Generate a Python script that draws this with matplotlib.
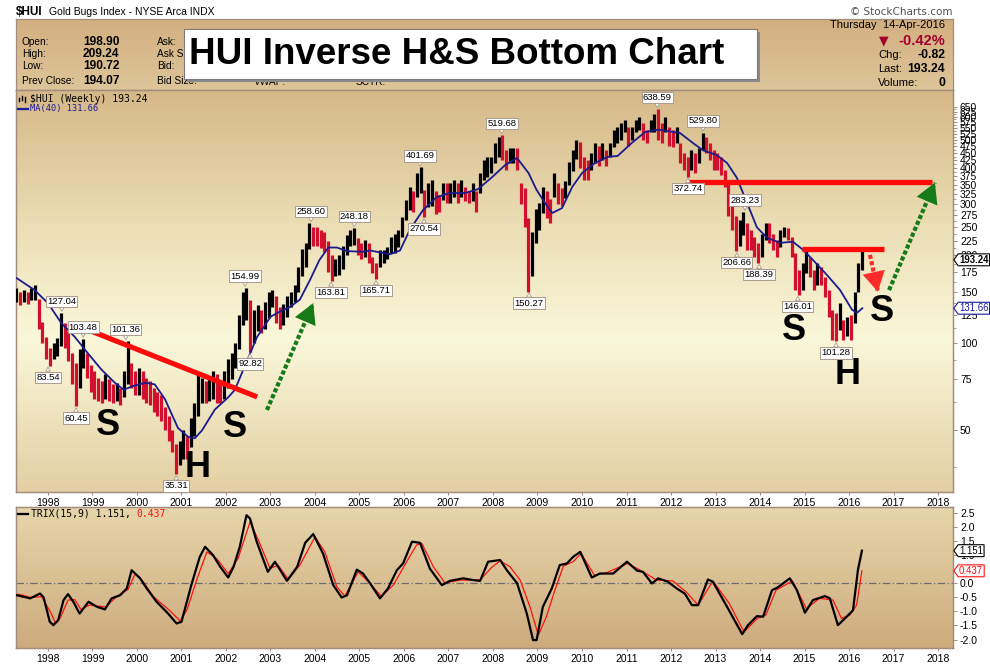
import numpy as np
import matplotlib
matplotlib.use("Agg")
import matplotlib.pyplot as plt
import matplotlib.ticker as mticker
from matplotlib.colors import LinearSegmentedColormap
from matplotlib.patches import Rectangle
from matplotlib.lines import Line2D
from matplotlib.path import Path

plt.rcParams['font.family'] = ['Liberation Sans', 'DejaVu Sans']

# ------------------------------------------------------------------ DATA
first_month = (1997, 4)          # first monthly bar: April 1997
bar_high = [
    155, 150, 152, 150, 155, 158, 142, 118, 105,                       # 1997 Apr-Dec
    96, 100, 104, 127, 117, 110, 92, 85, 95, 103.5, 92, 84,            # 1998
    80, 76, 74, 78, 75, 72, 73, 70, 80, 101.4, 85, 80,                 # 1999
    82, 80, 76, 74, 70, 68, 66, 60, 56, 50, 45, 46,                    # 2000
    50, 48, 55, 62, 78, 76, 74, 75, 80, 78, 74, 80,                    # 2001
    88, 92, 100, 125, 150, 155, 140, 130, 135, 130, 138, 150,          # 2002
    152, 145, 133, 136, 145, 150, 158, 183, 210, 220, 258.6, 250,      # 2003
    250, 245, 240, 225, 200, 195, 200, 215, 235, 245, 248.2, 230,      # 2004
    220, 226, 220, 198, 188, 209, 209, 214, 232, 238, 245, 272,        # 2005
    310, 344, 334, 384, 401.7, 336, 355, 365, 334, 322, 355, 355,      # 2006
    355, 364, 355, 364, 344, 334, 355, 334, 384, 426, 436, 436,        # 2007
    488, 511, 519.7, 461, 470, 470, 470, 355, 340, 270, 240, 290,      # 2008
    303, 344, 334, 313, 384, 355, 340, 360, 420, 460, 500, 490,        # 2009
    436, 426, 450, 488, 476, 488, 460, 488, 541, 553, 570, 585,        # 2010
    553, 553, 585, 600, 570, 541, 585, 615, 638.6, 570, 600, 553,      # 2011
    541, 553, 488, 450, 436, 460, 450, 470, 529.8, 511, 488, 460,      # 2012
    450, 436, 394, 355, 303, 273, 265, 283.2, 259, 245, 231, 221,      # 2013
    238, 259, 259, 238, 226, 245, 250, 248, 232, 204, 178, 188,        # 2014
    209, 198, 178, 188, 183, 169, 152, 130, 127, 137, 120, 123,        # 2015
    125, 150, 188, 209.2,                                              # 2016 Jan-Apr
]
bar_low = [
    138, 135, 138, 136, 140, 140, 112, 100, 88,                        # 1997
    83.5, 88, 90, 98, 96, 87, 72, 60.5, 70, 82, 76, 68,                # 1998
    64, 63, 62, 64, 63, 62, 63, 61, 65, 72, 70, 66,                    # 1999
    66, 64, 62, 61, 58, 56, 54, 50, 46, 42, 35.3, 38,                  # 2000
    40, 40, 44, 48, 56, 62, 62, 63, 64, 62, 62, 64,                    # 2001
    70, 75, 82, 95, 115, 120, 92.8, 100, 110, 108, 112, 122,           # 2002
    133, 117, 112, 115, 123, 133, 138, 150, 170, 183, 210, 216,        # 2003
    215, 212, 205, 175, 163.8, 170, 172, 180, 200, 215, 218, 200,      # 2004
    194, 198, 188, 174, 165.7, 183, 188, 194, 204, 204, 214, 232,      # 2005
    265, 287, 283, 318, 328, 270.5, 293, 297, 278, 283, 310, 303,      # 2006
    303, 318, 303, 318, 308, 303, 308, 283, 328, 364, 372, 384,        # 2007
    416, 436, 426, 394, 416, 416, 394, 300, 250, 150.3, 170, 220,      # 2008
    245, 280, 270, 259, 318, 300, 295, 315, 350, 390, 430, 400,        # 2009
    364, 364, 394, 416, 405, 426, 405, 436, 474, 488, 499, 530,        # 2010
    476, 499, 530, 541, 499, 488, 530, 530, 499, 488, 530, 476,        # 2011
    474, 488, 416, 394, 372.7, 394, 384, 416, 461, 450, 426, 394,      # 2012
    394, 378, 344, 273, 245, 206.7, 215, 235, 209, 209, 198, 188.4,    # 2013
    198, 226, 221, 209, 198, 214, 232, 226, 198, 152, 146, 152,        # 2014
    174, 169, 152, 158, 158, 144, 123, 102, 101.3, 111, 102, 106,      # 2015
    102, 117, 150, 178,                                                # 2016
]

ma_dates = [1997.30, 1997.70, 1998.00, 1998.30, 1998.60, 1998.90, 1999.20, 1999.50,
            1999.70, 1999.90, 2000.20, 2000.40, 2000.63, 2000.92, 2001.15, 2001.30,
            2001.46, 2001.75, 2002.05, 2002.20, 2002.39, 2002.70, 2003.00, 2003.20,
            2003.44, 2003.66, 2003.89, 2004.10, 2004.30, 2004.49, 2004.72, 2005.08,
            2005.24, 2005.53, 2005.69, 2005.91, 2006.13, 2006.43, 2006.74, 2007.03,
            2007.37, 2007.66, 2007.98, 2008.27, 2008.54, 2008.80, 2008.98, 2009.17,
            2009.33, 2009.55, 2009.78, 2010.00, 2010.29, 2010.58, 2010.80, 2011.12,
            2011.42, 2011.71, 2012.20, 2012.49, 2012.72, 2013.03, 2013.26, 2013.48,
            2013.71, 2013.93, 2014.16, 2014.45, 2014.74, 2014.97, 2015.19, 2015.51,
            2015.80, 2016.07, 2016.18, 2016.30]
ma_values = [167, 152, 137, 117, 105, 92, 81, 73,
             69, 71, 73, 72, 64, 51, 47.5, 47,
             50, 59, 65, 69, 81, 105, 123, 128,
             133, 141, 165, 193, 213, 213, 207, 206,
             208, 204, 202, 208, 245, 287, 318, 328,
             328, 338, 372, 409, 433, 384, 336, 303,
             280, 291, 344, 384, 416, 437, 440, 488,
             532, 542, 528, 488, 460, 443, 416, 370,
             303, 250, 230, 221, 223, 209, 193, 171,
             152, 130, 127, 131.66]

label_dates = [1998.31, 1998.79, 1998.00, 1998.63, 1999.75, 2000.88, 2002.43, 2002.54,
               2003.91, 2004.36, 2004.88, 2005.37, 2006.36, 2006.45, 2008.20, 2008.81,
               2011.69, 2012.72, 2012.38, 2013.66, 2013.48, 2013.98, 2014.85, 2015.71]
label_values = [127.04, 103.48, 83.54, 60.45, 101.36, 35.31, 154.99, 92.82,
                258.60, 163.81, 248.18, 165.71, 401.69, 270.54, 519.68, 150.27,
                638.59, 529.80, 372.74, 283.23, 206.66, 188.39, 146.01, 101.28]
label_side = ['h', 'h', 'l', 'l', 'h', 'l', 'h', 'l',
              'h', 'l', 'h', 'l', 'h', 'l', 'h', 'l',
              'h', 'h', 'l', 'h', 'l', 'l', 'l', 'l']

trix_dates = [1997.30, 1997.60, 1997.82, 1997.90, 1998.04, 1998.12, 1998.23, 1998.35, 1998.45,
              1998.57, 1998.71, 1998.91, 1999.10, 1999.28, 1999.43, 1999.62, 1999.77, 1999.88,
              2000.07, 2000.22, 2000.44, 2000.70, 2000.89, 2001.00, 2001.22, 2001.41, 2001.53,
              2001.71, 2001.87, 2002.05, 2002.17, 2002.31, 2002.46, 2002.54, 2002.69, 2002.94,
              2003.10, 2003.37, 2003.60, 2003.78, 2003.96, 2004.18, 2004.41, 2004.60, 2004.72,
              2004.94, 2005.08, 2005.24, 2005.46, 2005.64, 2005.84, 2005.98, 2006.18, 2006.36,
              2006.58, 2006.85, 2007.03, 2007.33, 2007.55, 2007.71, 2007.89, 2008.16, 2008.31,
              2008.54, 2008.76, 2008.90, 2008.98, 2009.12, 2009.32, 2009.50, 2009.66, 2009.80,
              2009.96, 2010.22, 2010.40, 2010.70, 2011.01, 2011.24, 2011.37, 2011.57, 2011.71,
              2011.93, 2012.13, 2012.31, 2012.47, 2012.61, 2012.83, 2012.94, 2013.26, 2013.60,
              2013.73, 2013.93, 2014.07, 2014.27, 2014.40, 2014.67, 2014.83, 2015.01, 2015.19,
              2015.46, 2015.57, 2015.75, 2015.91, 2016.09, 2016.20, 2016.29]
trix_values = [-0.43, -0.54, -0.37, -0.50, -1.37, -1.49, -1.31, -0.60, -0.39,
               -0.66, -1.08, -0.66, -0.84, -0.93, -0.54, -0.43, -0.19, 0.46,
               0.17, -0.19, -0.66, -1.08, -1.43, -1.37, -0.07, 0.93, 1.29,
               0.99, 0.58, 0.20, 0.58, 1.29, 2.41, 2.29, 1.47, 0.40,
               0.76, 0.08, 0.58, 1.43, 1.74, 1.05, -0.07, -0.51, -0.43,
               0.48, 0.34, -0.01, -0.54, -0.19, 0.46, 0.70, 1.47, 1.43,
               0.52, -0.07, 0.08, 0.17, 0.11, 0.08, 0.76, 0.82, 0.46,
               0.00, -1.08, -2.02, -2.02, -0.84, -0.19, 0.64, 0.70, 0.93,
               1.11, 0.20, 0.34, 0.34, 0.76, 0.44, 0.40, -0.01, 0.17,
               0.05, -0.19, -0.37, -0.78, -0.78, 0.13, 0.05, -0.84, -1.81,
               -1.49, -1.17, -1.19, -0.25, -0.15, 0.17, -0.25, -1.05, -0.60,
               -0.46, -0.54, -1.49, -1.25, -0.96, 0.46, 1.151]
signal_dates = [1997.33, 1997.63, 1997.86, 1998.08, 1998.17, 1998.27, 1998.45, 1998.60, 1998.74,
                1998.93, 1999.16, 1999.30, 1999.54, 1999.80, 1999.96, 2000.14, 2000.37, 2000.74,
                2000.97, 2001.12, 2001.34, 2001.57, 2001.79, 2002.05, 2002.27, 2002.54, 2002.73,
                2002.99, 2003.17, 2003.40, 2003.66, 2004.00, 2004.22, 2004.49, 2004.67, 2004.97,
                2005.16, 2005.49, 2005.76, 2006.06, 2006.28, 2006.40, 2006.66, 2006.92, 2007.26,
                2007.71, 2007.97, 2008.16, 2008.38, 2008.61, 2008.83, 2009.02, 2009.20, 2009.39,
                2009.58, 2009.80, 2009.98, 2010.28, 2010.55, 2011.03, 2011.44, 2011.67, 2012.04,
                2012.34, 2012.61, 2012.94, 2013.31, 2013.64, 2013.94, 2014.13, 2014.36, 2014.73,
                2015.04, 2015.34, 2015.64, 2015.83, 2016.02, 2016.17, 2016.29]
signal_values = [-0.39, -0.51, -0.48, -1.10, -1.43, -1.25, -0.60, -0.58, -0.93,
                 -0.78, -0.82, -0.84, -0.48, -0.22, 0.34, 0.05, -0.48, -0.98,
                 -1.34, -0.96, 0.11, 1.11, 0.87, 0.34, 0.87, 2.17, 1.52,
                 0.52, 0.64, 0.13, 0.64, 1.64, 1.11, -0.13, -0.46, 0.40,
                 0.11, -0.46, -0.07, 0.76, 1.35, 1.41, 0.58, 0.01, 0.11,
                 0.11, 0.56, 0.79, 0.58, 0.11, -0.84, -1.84, -1.19, -0.25,
                 0.60, 0.76, 1.05, 0.28, 0.37, 0.70, 0.34, 0.11, 0.08,
                 -0.31, -0.78, 0.08, -0.72, -1.73, -1.25, -1.13, -0.25, 0.08,
                 -0.90, -0.54, -0.60, -1.25, -1.13, -0.78, 0.437]

year_ticks = list(range(1998, 2019))
price_ticks = list(range(50, 651, 25))
price_minor = [37.5 + 25 * k for k in range(25)]
trix_ticks = [-2.0, -1.5, -1.0, -0.5, 0.0, 0.5, 1.0, 1.5, 2.0, 2.5]
last_price, last_ma, last_trix, last_signal = 193.24, 131.66, 1.151, 0.437

# hand-drawn annotations (date, price)
neckline = [(1998.83, 112.0), (2002.70, 65.2)]
hlines = [(2012.38, 2017.87, 358.0), (2014.94, 2016.79, 210.6)]
arrows = [((2002.92, 58.8), (2003.96, 137.0), '#157A17'),
          ((2016.90, 152.0), (2017.93, 356.0), '#157A17'),
          ((2016.47, 201.0), (2016.65, 150.0), '#FF2A2A')]
letters = [('S', 1999.35, 52.2), ('H', 2001.37, 37.4), ('S', 2002.20, 51.0),
           ('S', 2014.76, 110.8), ('H', 2015.96, 77.6), ('S', 2016.74, 127.8)]

# ------------------------------------------------------------------ FIGURE
W, H = 990, 664
fig = plt.figure(figsize=(W / 100, H / 100), dpi=100)
fig.patch.set_facecolor('white')
FRAME = '#A18C7E'


def rect(x0, y0, x1, y1):
    return [x0 / W, 1 - y1 / H, (x1 - x0) / W, (y1 - y0) / H]


def gradient_axes(box, stops, z):
    bg = fig.add_axes(box, zorder=z)
    cmap = LinearSegmentedColormap.from_list('g', stops)
    bg.imshow(np.linspace(0, 1, 256).reshape(-1, 1), aspect='auto', cmap=cmap,
              extent=(0, 1, 0, 1), origin='upper', interpolation='bilinear')
    bg.set_xlim(0, 1)
    bg.set_ylim(0, 1)
    bg.set_xticks([])
    bg.set_yticks([])
    for s in bg.spines.values():
        s.set_color(FRAME)
        s.set_linewidth(0.9)
    return bg


# header
gradient_axes(rect(16, 19, 953, 90), [(0, '#D3AF80'), (1, '#DDC599')], 0)
gradient_axes(rect(16, 90, 953, 492),
              [(0, '#D6B888'), (0.33, '#EBDDB4'), (0.62, '#FAF8DA'), (1, '#E3CFA3')], 0)
gradient_axes(rect(16, 507, 953, 648), [(0, '#E7D6AB'), (1, '#CDAB7D')], 0)


def ftext(x, y, s, **kw):
    kw.setdefault('va', 'center')
    kw.setdefault('zorder', 5)
    return fig.text(x / W, 1 - y / H, s, **kw)


ftext(16, 12, '$HUI', fontsize=8.5, fontweight='bold')
ftext(49, 12, 'Gold Bugs Index - NYSE Arca INDX', fontsize=7.5)
ftext(952, 12, '\u00a9 StockCharts.com', fontsize=7.5, ha='right', color='#505050',
      family=['DejaVu Sans'])
rows = [('Open:', '198.90', 42), ('High:', '209.24', 54), ('Low:', '190.72', 66),
        ('Prev Close:', '194.07', 81)]
for lab, val, yy in rows:
    ftext(22, yy, lab, fontsize=7.3)
    ftext(83, yy, val, fontsize=8.6, fontweight='bold')
for lab, yy in [('Ask:', 42), ('Ask Size:', 54), ('Bid:', 66), ('Bid Size:', 81)]:
    ftext(157, yy, lab, fontsize=7.3)
ftext(254, 82, 'VWAP:', fontsize=7.3)
ftext(356, 82, 'SCTR:', fontsize=7.3)
ftext(945, 25, 'Thursday  14-Apr-2016', fontsize=8, ha='right')
ftext(884, 41, '\u25BC', fontsize=9, color='#A3002F', ha='center', family=['DejaVu Sans'])
ftext(945, 41, '-0.42%', fontsize=10.5, fontweight='bold', color='#A3002F', ha='right')
for lab, val, yy in [('Chg:', '-0.82', 55), ('Last:', '193.24', 69), ('Volume:', '0', 83)]:
    ftext(878, yy, lab, fontsize=8)
    ftext(945, yy, val, fontsize=8.8, fontweight='bold', ha='right')

# title box
fig.add_artist(Rectangle((187 / W, 1 - 82 / H), 573 / W, 50 / H, transform=fig.transFigure,
                         fc='#8A8A8A', ec='none', zorder=6))
fig.add_artist(Rectangle((184 / W, 1 - 79 / H), 573 / W, 50 / H, transform=fig.transFigure,
                         fc='white', ec='#7A7A7A', lw=0.8, zorder=7))
ftext(189, 55, 'HUI Inverse H&S Bottom Chart', fontsize=26.5, fontweight='bold', zorder=8)

# ------------------------------------------------------------------ PRICE PANEL
ax = fig.add_axes(rect(16, 90, 953, 492), zorder=2)
ax.set_facecolor('none')
ax.set_yscale('log')
ax.set_xlim(1997.281, 2018.337)
ax.set_ylim(30.7, 742)
for s in ax.spines.values():
    s.set_color(FRAME)
    s.set_linewidth(0.9)

n = len(bar_high)
m0 = first_month[0] * 12 + first_month[1] - 1
bar_dates = np.array([(m0 + i) // 12 + ((m0 + i) % 12) / 12 + 1 / 24 for i in range(n)])
hi = np.array(bar_high, dtype=float)
lo = np.array(bar_low, dtype=float)
mid = np.sqrt(hi * lo)
up = np.r_[True, mid[1:] >= mid[:-1]]
cols = np.where(up, '#000000', '#D2102E')
ax.vlines(bar_dates, lo, hi, colors=cols, lw=2.3, zorder=3)
ax.plot(ma_dates, ma_values, color='#1B1B8E', lw=1.3, zorder=4)

# neckline + horizontal resistance lines
ax.plot([p[0] for p in neckline], [p[1] for p in neckline], color='#FF0A0A', lw=3.7,
        solid_capstyle='butt', zorder=5)
for x0, x1, yv in hlines:
    ax.plot([x0, x1], [yv, yv], color='#FF0A0A', lw=3.8, solid_capstyle='butt', zorder=5)

# dotted arrows
for (x0, y0), (x1, y1), c in arrows:
    ax.plot([x0, x1], [y0, y1], color=c, lw=3.0, ls=(0, (1.0, 0.55)),
            dash_capstyle='butt', zorder=5)
    ax.annotate('', xy=(x1, y1), xytext=(x0, y0),
                arrowprops=dict(arrowstyle='-|>,head_length=0.8,head_width=0.45',
                                mutation_scale=18, lw=0, color=c,
                                shrinkA=0, shrinkB=0), zorder=6)

for s, xv, yv in letters:
    ax.text(xv, yv, s, fontsize=26, fontweight='bold', ha='center', va='center', zorder=6)

for t, v, side in zip(label_dates, label_values, label_side):
    off = 8.3 if side == 'h' else -8.3
    ax.annotate(f'{v:.2f}', xy=(t, v), xytext=(0, off), textcoords='offset points',
                ha='center', va='center', fontsize=6.8, zorder=7,
                bbox=dict(boxstyle='square,pad=0.12', fc='white', ec='#A99C8E', lw=0.7),
                arrowprops=dict(arrowstyle='wedge,tail_width=0.5,shrink_factor=0.5',
                                fc='white', ec='#A99C8E', lw=0.6, shrinkA=0, shrinkB=1))

# axes ticks
ax.yaxis.tick_right()
ax.yaxis.set_major_locator(mticker.FixedLocator(price_ticks))
ax.yaxis.set_major_formatter(mticker.FixedFormatter([str(p) for p in price_ticks]))
ax.yaxis.set_minor_locator(mticker.FixedLocator(price_minor))
ax.yaxis.set_minor_formatter(mticker.NullFormatter())
ax.tick_params(axis='y', which='major', direction='out', length=3, width=0.7, color=FRAME,
               labelsize=7.5, pad=2)
ax.tick_params(axis='y', which='minor', direction='out', length=2, width=0.6, color=FRAME)
ax.set_xticks(year_ticks)
ax.set_xticklabels([str(y) for y in year_ticks])
ax.tick_params(axis='x', direction='out', length=2, width=0.7, color=FRAME, labelsize=7.5, pad=2)


def tag_box(x0, y0, width, height, mutation_size):
    pad = 0.1 * mutation_size
    x0, y0, width, height = x0 - pad, y0 - pad, width + 2 * pad, height + 2 * pad
    tip = 0.36 * height
    verts = [(x0, y0), (x0 + width, y0), (x0 + width, y0 + height), (x0, y0 + height),
             (x0 - tip, y0 + height / 2), (x0, y0)]
    codes = [Path.MOVETO] + [Path.LINETO] * 4 + [Path.CLOSEPOLY]
    return Path(verts, codes)


def tag(axis, y, text, color, weight='normal'):
    axis.annotate(text, xy=(1, y), xycoords=('axes fraction', 'data'), xytext=(4.4, 0),
                  textcoords='offset points', ha='left', va='center', fontsize=6.9,
                  color=color, fontweight=weight, zorder=10, annotation_clip=False,
                  bbox=dict(boxstyle=tag_box, fc='white', ec=color, lw=0.8))


tag(ax, last_price, f'{last_price:.2f}', 'black', 'bold')
tag(ax, last_ma, f'{last_ma:.2f}', '#1B1B9E')

# legend of price panel
for k, (hh, ll) in enumerate([(0.6, 0.2), (0.9, 0.4), (0.7, 0.1)]):
    xk = (19 + 3 * k) / W
    fig.add_artist(Line2D([xk, xk], [1 - (103 - 8 * ll) / H, 1 - (103 - 8 * hh) / H],
                          transform=fig.transFigure, color='black', lw=1.0, zorder=5))
ftext(30, 99, '$HUI (Weekly) 193.24', fontsize=7, family=['DejaVu Sans Mono'])
fig.add_artist(Line2D([18 / W, 28 / W], [1 - 109 / H, 1 - 109 / H], transform=fig.transFigure,
                      color='#1B1B9E', lw=1.6, zorder=5))
ftext(30, 109, 'MA(40) 131.66', fontsize=6.2, family=['DejaVu Sans Mono'], color='#1B1B9E')

# ------------------------------------------------------------------ TRIX PANEL
tx = fig.add_axes(rect(16, 507, 953, 648), zorder=2)
tx.set_facecolor('none')
tx.set_xlim(1997.281, 2018.337)
tx.set_ylim(-2.30, 2.70)
for s in tx.spines.values():
    s.set_color(FRAME)
    s.set_linewidth(0.9)
tx.axhline(0, color='#6E6E6E', lw=0.9, ls=(0, (6, 2, 1, 2)), zorder=2)
tx.plot(signal_dates, signal_values, color='#FF1010', lw=0.9, zorder=3)
tx.plot(trix_dates, trix_values, color='black', lw=1.6, zorder=4)
tx.yaxis.tick_right()
tx.set_yticks(trix_ticks)
tx.set_yticklabels([f'{v:.1f}' for v in trix_ticks])
tx.tick_params(axis='y', direction='out', length=3, width=0.7, color=FRAME, labelsize=7.5, pad=2)
tx.set_xticks(year_ticks)
tx.set_xticklabels([str(y) for y in year_ticks])
tx.tick_params(axis='x', direction='out', length=2, width=0.7, color=FRAME, labelsize=7.5, pad=2)
tag(tx, last_trix, f'{last_trix:.3f}', 'black')
tag(tx, last_signal, f'{last_signal:.3f}', '#FF1010')

fig.add_artist(Line2D([18 / W, 28 / W], [1 - 514 / H, 1 - 514 / H], transform=fig.transFigure,
                      color='black', lw=1.6, zorder=5))
ftext(31, 514, 'TRIX(15,9) 1.151, ', fontsize=7, family=['DejaVu Sans Mono'])
ftext(31 + 18 * 5.85, 514, '0.437', fontsize=7, family=['DejaVu Sans Mono'], color='#FF1010')

fig.savefig('out.png', dpi=100, facecolor='white')
